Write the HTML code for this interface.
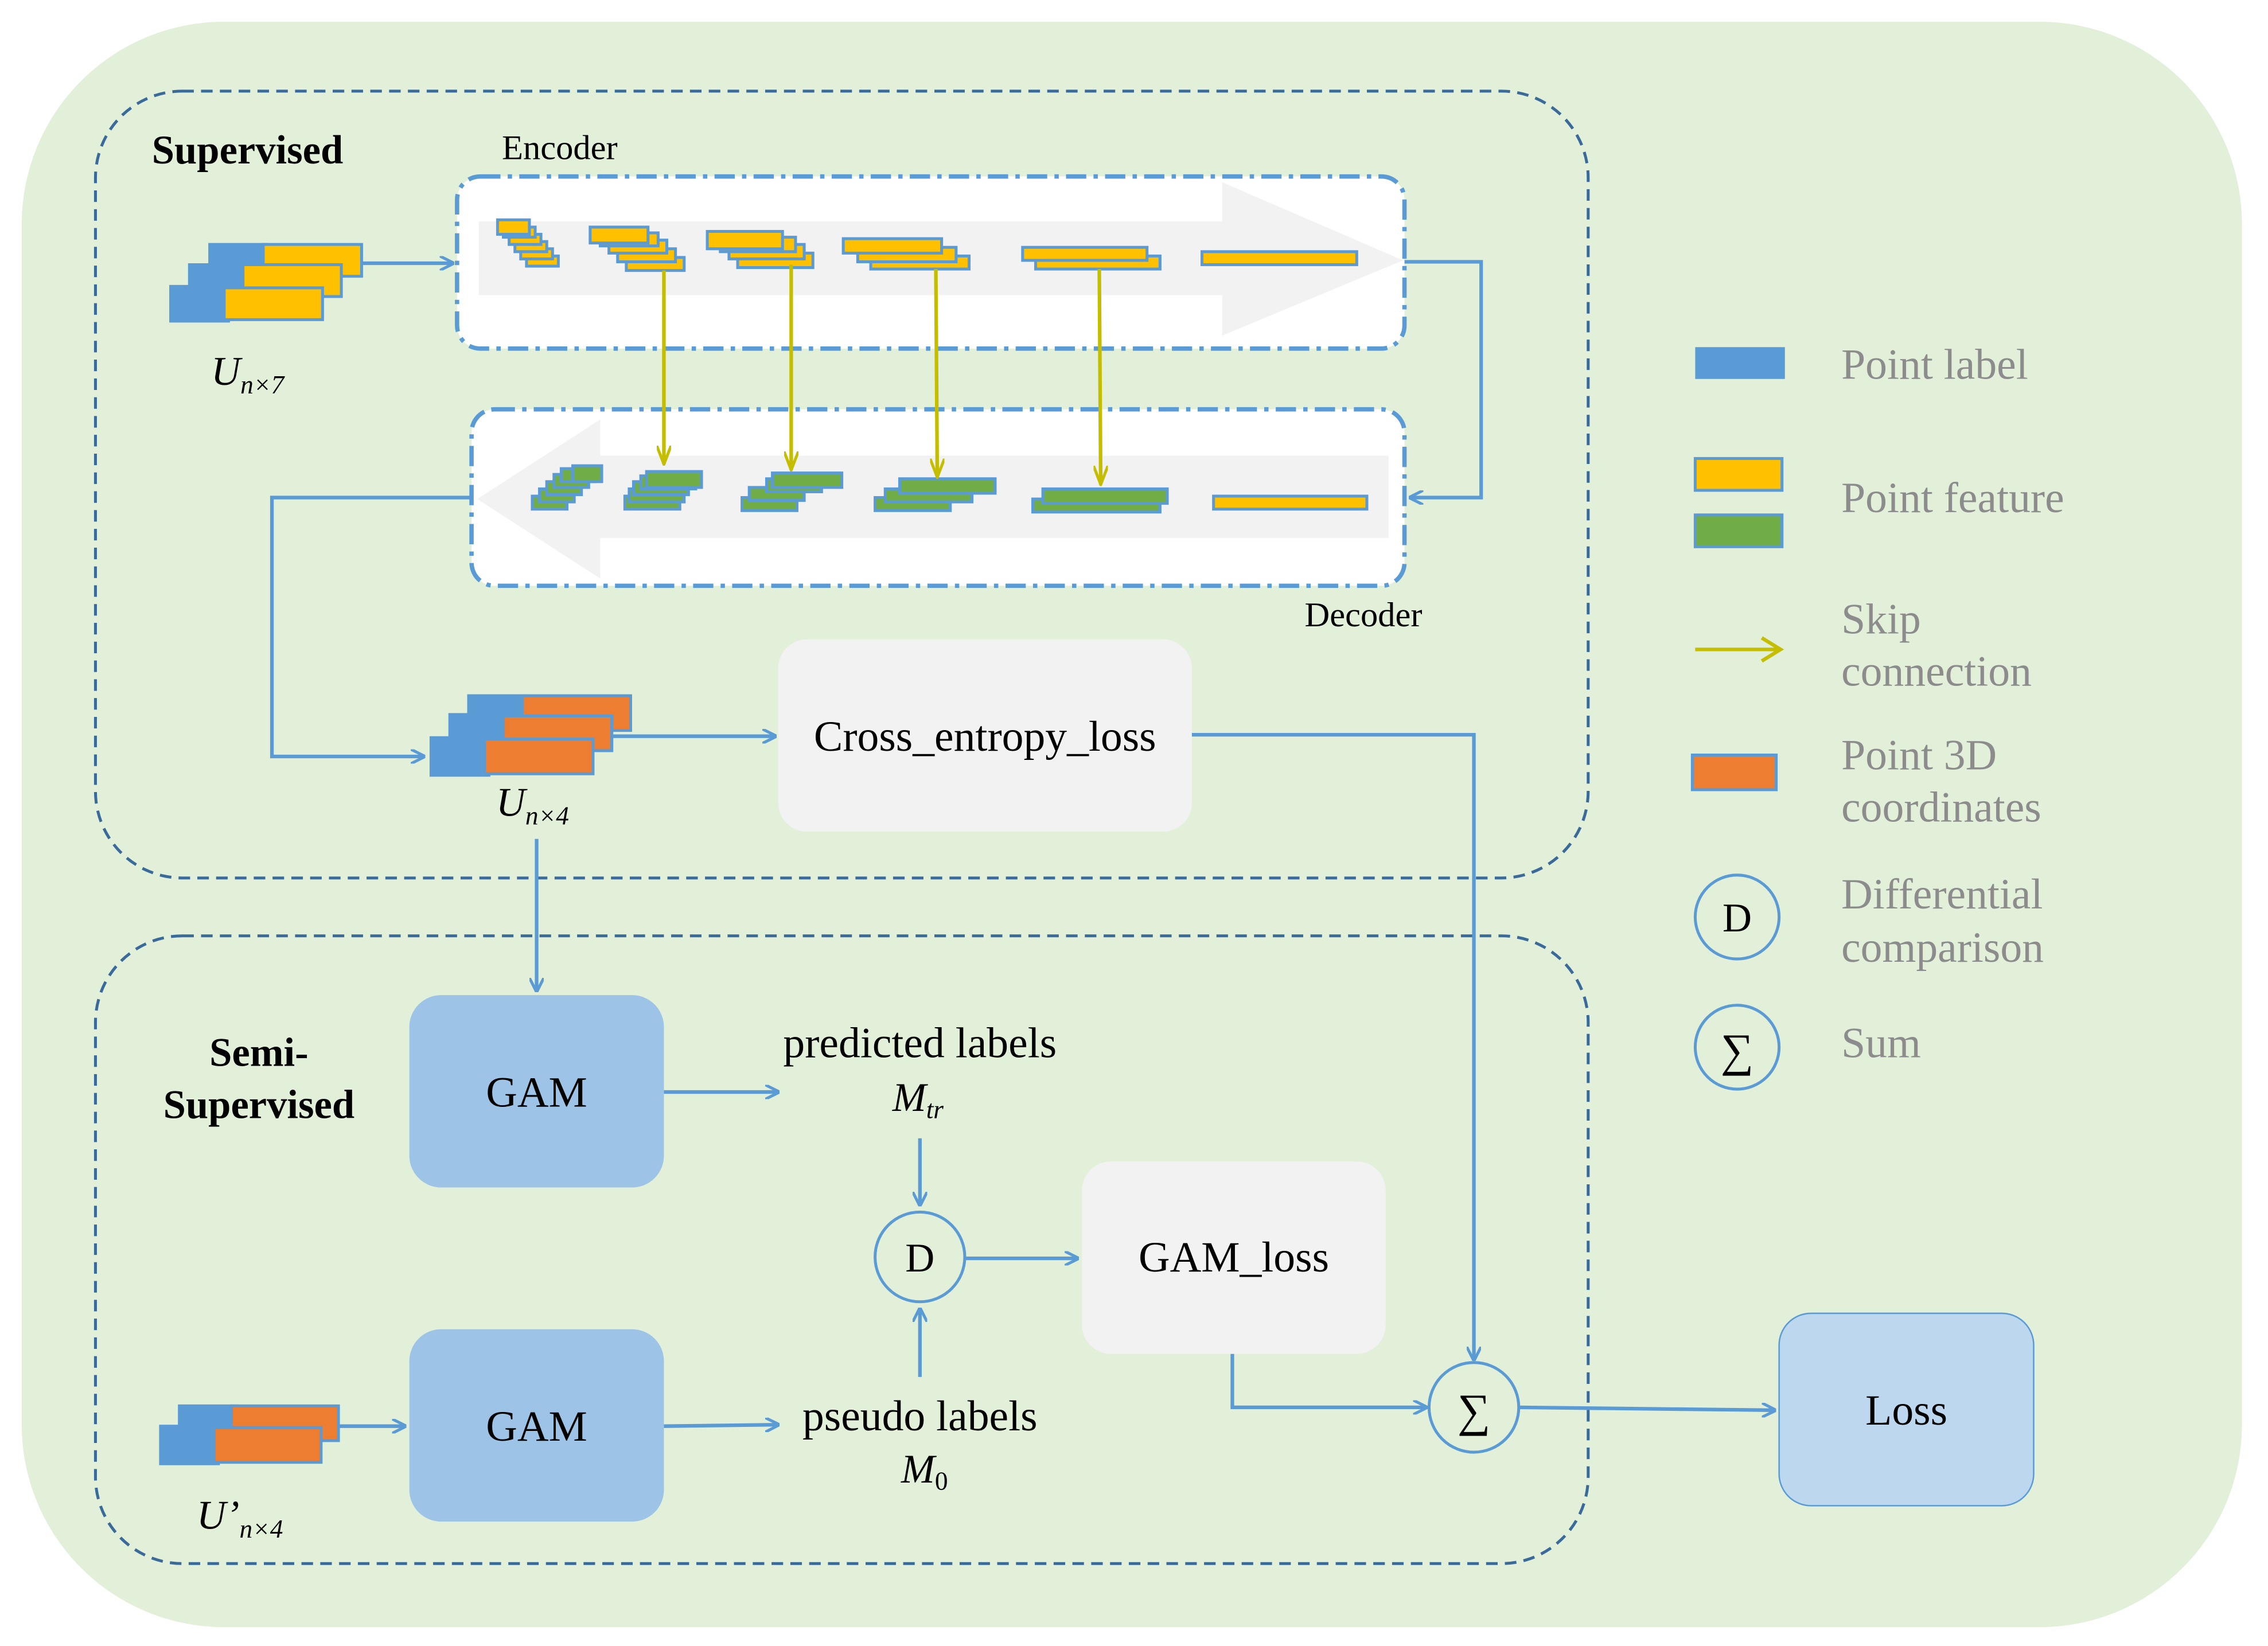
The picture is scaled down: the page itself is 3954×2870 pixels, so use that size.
<!DOCTYPE html>
<html><head><meta charset="utf-8"><style>html,body{margin:0;padding:0;background:#fff}svg{display:block}</style></head><body>
<svg width="3954" height="2870" viewBox="0 0 1568 1138" preserveAspectRatio="none" xmlns="http://www.w3.org/2000/svg" font-family="Liberation Serif, serif">
<defs>
<marker id="ab" markerWidth="10" markerHeight="10" refX="9" refY="5" orient="auto" markerUnits="userSpaceOnUse"><path d="M0,0 L10,5 L0,10" fill="none" stroke="#5b9bd5" stroke-width="2"/></marker>
<marker id="ay" markerWidth="10" markerHeight="14" refX="5" refY="13" orient="0" markerUnits="userSpaceOnUse"><path d="M0,0 L5,13 L10,0" fill="none" stroke="#c4bd00" stroke-width="2"/></marker>
</defs>
<rect x="15" y="15" width="1535" height="1110" rx="140" fill="#e2efd9"/>
<rect x="66" y="63" width="1032" height="544" rx="60" fill="none" stroke="#3a6a9a" stroke-width="2" stroke-dasharray="8,5"/>
<rect x="66" y="647" width="1032" height="434" rx="60" fill="none" stroke="#3a6a9a" stroke-width="2" stroke-dasharray="8,5"/>
<text x="105" y="113" font-size="28" font-weight="bold">Supervised</text>
<text x="347" y="110" font-size="24">Encoder</text>
<text x="902" y="433" font-size="24">Decoder</text>
<rect x="316" y="122" width="655" height="119" rx="16" fill="#fff" stroke="#5b9bd5" stroke-width="3" stroke-dasharray="14,5,3,5"/>
<path d="M331,153 L845,153 L845,126 L970,180 L845,232 L845,204 L331,204 Z" fill="#f2f2f2"/>
<g fill="#ffc000" stroke="#5b9bd5" stroke-width="2">
<rect x="364" y="177" width="22" height="7"/><rect x="360" y="172" width="22" height="7"/><rect x="356" y="167" width="22" height="7"/><rect x="352" y="162" width="22" height="7"/><rect x="348" y="157" width="22" height="7"/><rect x="344" y="152" width="22" height="10"/>
<rect x="433" y="178" width="40" height="9"/><rect x="427" y="172" width="40" height="9"/><rect x="421" y="166" width="40" height="9"/><rect x="415" y="161" width="40" height="9"/><rect x="408" y="157" width="40" height="11"/>
<rect x="510" y="175" width="52" height="10"/><rect x="504" y="169" width="52" height="10"/><rect x="498" y="164" width="52" height="10"/><rect x="489" y="160" width="52" height="12"/>
<rect x="602" y="177" width="68" height="9"/><rect x="593" y="171" width="68" height="10"/><rect x="583" y="165" width="68" height="10"/>
<rect x="716" y="177" width="86" height="9"/><rect x="707" y="171" width="86" height="9"/>
<rect x="831" y="174" width="107" height="9"/>
</g>
<rect x="326" y="283" width="645" height="122" rx="16" fill="#fff" stroke="#5b9bd5" stroke-width="3" stroke-dasharray="14,5,3,5"/>
<path d="M330,345 L415,290 L415,315 L960,315 L960,372 L415,372 L415,400 Z" fill="#f2f2f2"/>
<g fill="#70ad47" stroke="#5b9bd5" stroke-width="2">
<rect x="368" y="343" width="24" height="9"/><rect x="373" y="338" width="24" height="9"/><rect x="378" y="333" width="24" height="9"/><rect x="383" y="328" width="24" height="9"/><rect x="388" y="324" width="24" height="9"/><rect x="396" y="322" width="20" height="11"/>
<rect x="432" y="343" width="38" height="9"/><rect x="435" y="338" width="38" height="9"/><rect x="438" y="333" width="38" height="9"/><rect x="443" y="329" width="38" height="9"/><rect x="447" y="326" width="38" height="11"/>
<rect x="513" y="344" width="38" height="9"/><rect x="518" y="337" width="38" height="9"/><rect x="530" y="331" width="38" height="9"/><rect x="534" y="327" width="48" height="10"/>
<rect x="605" y="344" width="52" height="9"/><rect x="612" y="338" width="60" height="9"/><rect x="622" y="331" width="66" height="10"/>
<rect x="714" y="345" width="88" height="9"/><rect x="721" y="338" width="86" height="10"/>
</g>
<rect x="839" y="343" width="106" height="9" fill="#ffc000" stroke="#5b9bd5" stroke-width="2"/>
<g stroke="#c4bd00" stroke-width="2.5" fill="none">
<line x1="459" y1="187" x2="459" y2="321" marker-end="url(#ay)"/>
<line x1="547" y1="183" x2="547" y2="325" marker-end="url(#ay)"/>
<line x1="647" y1="186" x2="648" y2="330" marker-end="url(#ay)"/>
<line x1="760" y1="186" x2="761" y2="335" marker-end="url(#ay)"/>
</g>
<g stroke="#5b9bd5" stroke-width="2">
<rect x="118" y="198" width="40" height="24" fill="#5b9bd5"/><rect x="131" y="183" width="40" height="24" fill="#5b9bd5"/><rect x="145" y="169" width="40" height="24" fill="#5b9bd5"/>
<rect x="182" y="169" width="68" height="22" fill="#ffc000"/><rect x="168" y="183" width="68" height="22" fill="#ffc000"/><rect x="155" y="199" width="68" height="22" fill="#ffc000"/>
</g>
<text x="146" y="266" font-size="28" font-style="italic">U<tspan font-size="18" dy="6">n×7</tspan></text>
<g stroke="#5b9bd5" stroke-width="2.5" fill="none">
<line x1="250" y1="182" x2="313" y2="182" marker-end="url(#ab)"/>
<polyline points="971,181 1024,181 1024,344 975,344" marker-end="url(#ab)"/>
<polyline points="326,344 188,344 188,523 293,523" marker-end="url(#ab)"/>
<line x1="423" y1="509" x2="536" y2="509" marker-end="url(#ab)"/>
<polyline points="824,508 1019,508 1019,940" marker-end="url(#ab)"/>
<line x1="371" y1="580" x2="371" y2="685" marker-end="url(#ab)"/>
<line x1="459" y1="755" x2="538" y2="755" marker-end="url(#ab)"/>
<line x1="636" y1="787" x2="636" y2="833" marker-end="url(#ab)"/>
<line x1="636" y1="952" x2="636" y2="905" marker-end="url(#ab)"/>
<line x1="667" y1="870" x2="745" y2="870" marker-end="url(#ab)"/>
<polyline points="852,936 852,973 986,973" marker-end="url(#ab)"/>
<line x1="459" y1="986" x2="538" y2="985" marker-end="url(#ab)"/>
<line x1="234" y1="986" x2="280" y2="986" marker-end="url(#ab)"/>
<line x1="1050" y1="973" x2="1227" y2="975" marker-end="url(#ab)"/>
</g>
<g stroke="#5b9bd5" stroke-width="2">
<rect x="298" y="510" width="40" height="26" fill="#5b9bd5"/><rect x="311" y="494" width="40" height="26" fill="#5b9bd5"/><rect x="324" y="481" width="40" height="26" fill="#5b9bd5"/>
<rect x="361" y="481" width="75" height="24" fill="#ed7d31"/><rect x="348" y="495" width="75" height="24" fill="#ed7d31"/><rect x="335" y="511" width="75" height="24" fill="#ed7d31"/>
</g>
<text x="343" y="564" font-size="28" font-style="italic">U<tspan font-size="18" dy="6">n×4</tspan></text>
<rect x="538" y="442" width="286" height="133" rx="20" fill="#f2f2f2"/>
<text x="681" y="519" font-size="30" text-anchor="middle">Cross_entropy_loss</text>
<text x="179" y="737" font-size="28" font-weight="bold" text-anchor="middle">Semi-</text>
<text x="179" y="773" font-size="28" font-weight="bold" text-anchor="middle">Supervised</text>
<rect x="283" y="688" width="176" height="133" rx="22" fill="#9dc3e6"/>
<text x="371" y="765" font-size="30" text-anchor="middle">GAM</text>
<rect x="283" y="919" width="176" height="133" rx="22" fill="#9dc3e6"/>
<text x="371" y="996" font-size="30" text-anchor="middle">GAM</text>
<text x="636" y="731" font-size="30" text-anchor="middle">predicted labels</text>
<text x="617" y="768" font-size="28" font-style="italic">M<tspan font-size="18" dy="5">tr</tspan></text>
<text x="636" y="989" font-size="30" text-anchor="middle">pseudo labels</text>
<text x="623" y="1025" font-size="28" font-style="italic">M<tspan font-size="18" dy="5" font-style="normal">0</tspan></text>
<circle cx="636" cy="869" r="31" fill="none" stroke="#5b9bd5" stroke-width="2"/>
<text x="636" y="879" font-size="28" text-anchor="middle">D</text>
<rect x="748" y="803" width="210" height="133" rx="20" fill="#f2f2f2"/>
<text x="853" y="879" font-size="30" text-anchor="middle">GAM_loss</text>
<circle cx="1019" cy="973" r="31" fill="none" stroke="#5b9bd5" stroke-width="2"/>
<text x="1019" y="986" font-size="32" text-anchor="middle">∑</text>
<rect x="1230" y="908" width="176" height="133" rx="22" fill="#bdd7ee" stroke="#5b9bd5" stroke-width="1"/>
<text x="1318" y="985" font-size="30" text-anchor="middle">Loss</text>
<g stroke="#5b9bd5" stroke-width="2">
<rect x="111" y="986" width="40" height="26" fill="#5b9bd5"/><rect x="124" y="972" width="40" height="26" fill="#5b9bd5"/>
<rect x="160" y="972" width="74" height="24" fill="#ed7d31"/><rect x="148" y="987" width="74" height="24" fill="#ed7d31"/>
</g>
<text x="136" y="1057" font-size="28" font-style="italic">U’<tspan font-size="18" dy="6">n×4</tspan></text>
<rect x="1172" y="240" width="62" height="22" fill="#5b9bd5"/>
<rect x="1172" y="317" width="60" height="22" fill="#ffc000" stroke="#5b9bd5" stroke-width="2"/>
<rect x="1172" y="356" width="60" height="22" fill="#70ad47" stroke="#5b9bd5" stroke-width="2"/>
<line x1="1172" y1="449" x2="1230" y2="449" stroke="#c4bd00" stroke-width="2.5"/>
<path d="M1218,441 L1231,449 L1218,457" fill="none" stroke="#c4bd00" stroke-width="2.5"/>
<rect x="1170" y="522" width="58" height="24" fill="#ed7d31" stroke="#5b9bd5" stroke-width="2"/>
<circle cx="1201" cy="634" r="29" fill="none" stroke="#5b9bd5" stroke-width="2"/>
<text x="1201" y="644" font-size="28" text-anchor="middle">D</text>
<circle cx="1201" cy="724" r="29" fill="none" stroke="#5b9bd5" stroke-width="2"/>
<text x="1201" y="737" font-size="32" text-anchor="middle">∑</text>
<g font-size="30" fill="#8c8c8c">
<text x="1273" y="262">Point label</text>
<text x="1273" y="354">Point feature</text>
<text x="1273" y="438">Skip</text>
<text x="1273" y="474">connection</text>
<text x="1273" y="532">Point 3D</text>
<text x="1273" y="568">coordinates</text>
<text x="1273" y="628">Differential</text>
<text x="1273" y="665">comparison</text>
<text x="1273" y="731">Sum</text>
</g>
</svg>
</body></html>
